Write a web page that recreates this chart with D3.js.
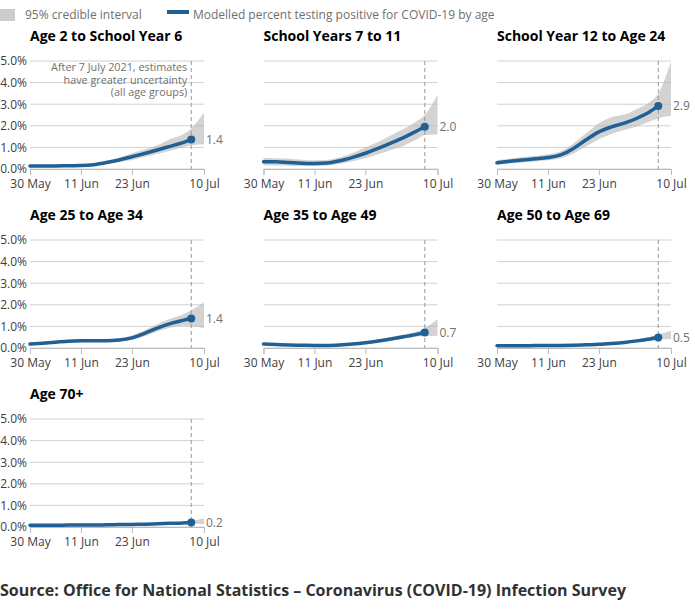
<!DOCTYPE html>
<html>
<head>
<meta charset="utf-8">
<script src="https://cdn.jsdelivr.net/npm/d3@7"></script>
<style>
  body { margin: 0; background: #fff; }
  svg { font-family: "Open Sans", sans-serif; display: block; }
</style>
</head>
<body>
<div id="chart"></div>
<script>
// panel titles, in reading order
let groups = [
  "Age 2 to School Year 6",
  "School Years 7 to 11",
  "School Year 12 to Age 24",
  "Age 25 to Age 34",
  "Age 35 to Age 49",
  "Age 50 to Age 69",
  "Age 70+"
];

// sample dates (last one only for the interval)
let dates = [
  "2021-05-30", "2021-06-02", "2021-06-05", "2021-06-08", "2021-06-11",
  "2021-06-14", "2021-06-17", "2021-06-20", "2021-06-23", "2021-06-26",
  "2021-06-29", "2021-07-02", "2021-07-05", "2021-07-07", "2021-07-10"
];

// modelled percent testing positive
let modelled = [
  [0.14, 0.14, 0.14, 0.15, 0.16, 0.20, 0.30, 0.42, 0.57, 0.72, 0.88, 1.05, 1.22, 1.37, null],
  [0.34, 0.33, 0.30, 0.27, 0.26, 0.28, 0.38, 0.54, 0.73, 0.95, 1.20, 1.45, 1.75, 1.96, null],
  [0.29, 0.36, 0.42, 0.47, 0.53, 0.65, 0.95, 1.35, 1.72, 1.95, 2.12, 2.35, 2.65, 2.92, null],
  [0.18, 0.22, 0.27, 0.31, 0.33, 0.34, 0.34, 0.37, 0.47, 0.68, 0.92, 1.13, 1.28, 1.37, null],
  [0.18, 0.16, 0.14, 0.13, 0.12, 0.12, 0.14, 0.18, 0.24, 0.32, 0.42, 0.52, 0.63, 0.72, null],
  [0.10, 0.10, 0.10, 0.11, 0.11, 0.12, 0.13, 0.15, 0.17, 0.21, 0.26, 0.33, 0.42, 0.49, null],
  [0.08, 0.08, 0.08, 0.09, 0.09, 0.09, 0.10, 0.11, 0.12, 0.13, 0.15, 0.17, 0.19, 0.21, null]
];

// 95% credible interval, lower bound
let lower = [
  [0.10, 0.10, 0.11, 0.12, 0.13, 0.16, 0.23, 0.33, 0.42, 0.56, 0.70, 0.85, 1.00, 1.10, 1.15],
  [0.17, 0.16, 0.15, 0.14, 0.14, 0.16, 0.24, 0.36, 0.50, 0.68, 0.88, 1.08, 1.35, 1.57, 1.60],
  [0.18, 0.25, 0.30, 0.35, 0.40, 0.50, 0.72, 1.05, 1.38, 1.62, 1.80, 1.98, 2.20, 2.35, 2.45],
  [0.13, 0.17, 0.21, 0.25, 0.27, 0.28, 0.28, 0.30, 0.37, 0.54, 0.76, 0.94, 1.03, 1.02, 0.92],
  [0.14, 0.12, 0.11, 0.10, 0.09, 0.09, 0.11, 0.14, 0.19, 0.26, 0.34, 0.43, 0.52, 0.55, 0.57],
  [0.08, 0.08, 0.08, 0.09, 0.09, 0.10, 0.11, 0.12, 0.14, 0.17, 0.21, 0.27, 0.34, 0.39, 0.42],
  [0.06, 0.06, 0.06, 0.07, 0.07, 0.07, 0.08, 0.09, 0.10, 0.11, 0.12, 0.14, 0.15, 0.16, 0.13]
];

// 95% credible interval, upper bound
let upper = [
  [0.19, 0.19, 0.18, 0.19, 0.20, 0.25, 0.38, 0.52, 0.73, 0.90, 1.10, 1.38, 1.60, 1.88, 2.60],
  [0.52, 0.50, 0.47, 0.43, 0.40, 0.42, 0.54, 0.74, 0.99, 1.25, 1.55, 1.85, 2.20, 2.50, 3.45],
  [0.42, 0.48, 0.55, 0.60, 0.68, 0.82, 1.18, 1.65, 2.12, 2.40, 2.52, 2.78, 3.10, 3.50, 4.98],
  [0.24, 0.28, 0.33, 0.37, 0.39, 0.40, 0.41, 0.45, 0.58, 0.82, 1.10, 1.35, 1.55, 1.75, 2.12],
  [0.22, 0.20, 0.18, 0.16, 0.15, 0.15, 0.17, 0.22, 0.29, 0.38, 0.50, 0.62, 0.76, 0.92, 1.34],
  [0.12, 0.12, 0.12, 0.13, 0.13, 0.14, 0.15, 0.18, 0.20, 0.25, 0.31, 0.40, 0.51, 0.62, 0.80],
  [0.10, 0.10, 0.10, 0.11, 0.11, 0.11, 0.12, 0.13, 0.14, 0.16, 0.18, 0.21, 0.24, 0.28, 0.40]
];

let x_ticks = ["2021-05-30", "2021-06-11", "2021-06-23", "2021-07-10"];
let y_ticks = [0, 1, 2, 3, 4, 5];
let cutoff_date = "2021-07-07";
let note_lines = [
  "After 7 July 2021, estimates",
  "have greater uncertainty",
  "(all age groups)"
];

let parse = d3.timeParse("%Y-%m-%d");

let width = 695;
let height = 612;
let panel_w = 174;
let panel_h = 108;
let col_x = [30, 263.5, 497];
let row_y = [61, 240, 419];

let blue = "#206095";
let text_grey = "#414042";
let soft_grey = "#707071";

let svg = d3.select("#chart")
  .append("svg")
    .attr("width", width)
    .attr("height", height);

let x = d3.scaleTime()
  .domain([parse("2021-05-30"), parse("2021-07-10")])
  .range([0, panel_w]);

let y = d3.scaleLinear()
  .domain([0, 5])
  .range([panel_h, 0]);

let band = d3.area()
  .x(function(d) { return x(d.date); })
  .y0(function(d) { return y(d.lo); })
  .y1(function(d) { return y(d.hi); })
  .curve(d3.curveMonotoneX);

let line = d3.line()
  .defined(function(d) { return d.mid != null; })
  .x(function(d) { return x(d.date); })
  .y(function(d) { return y(d.mid); })
  .curve(d3.curveMonotoneX);

let x_axis = d3.axisBottom(x)
  .tickValues(x_ticks.map(parse))
  .tickFormat(d3.timeFormat("%-d %b"))
  .tickSize(6)
  .tickPadding(4);

let y_axis = d3.axisLeft(y)
  .tickValues(y_ticks)
  .tickFormat(function(d) { return d3.format(".1f")(d) + "%"; })
  .tickSize(0)
  .tickPadding(3);

// legend
let legend = svg.append("g").attr("transform", "translate(0,0)");
legend.append("rect")
  .attr("x", 0).attr("y", 9).attr("width", 15).attr("height", 12)
  .attr("fill", "#cccccc");
legend.append("text")
  .attr("x", 25).attr("y", 18.5)
  .attr("font-size", 12).attr("fill", soft_grey)
  .text("95% credible interval");
legend.append("line")
  .attr("x1", 167).attr("x2", 189).attr("y1", 12).attr("y2", 12)
  .attr("stroke", blue).attr("stroke-width", 4);
legend.append("text")
  .attr("x", 193).attr("y", 18.5)
  .attr("font-size", 12).attr("fill", soft_grey)
  .text("Modelled percent testing positive for COVID-19 by age");

groups.forEach(function(name, i) {
  let col = i % 3;
  let row = Math.floor(i / 3);
  let g = svg.append("g")
    .attr("transform", "translate(" + col_x[col] + "," + row_y[row] + ")");

  let rows = dates.map(function(d, j) {
    return { date: parse(d), mid: modelled[i][j], lo: lower[i][j], hi: upper[i][j] };
  });

  g.append("text")
    .attr("x", 0).attr("y", -20)
    .attr("font-size", 14).attr("font-weight", "bold").attr("fill", "#000")
    .text(name);

  // gridlines
  g.selectAll(".grid")
    .data(y_ticks)
    .enter().append("line")
      .attr("x1", 0).attr("x2", panel_w)
      .attr("y1", function(d) { return y(d); })
      .attr("y2", function(d) { return y(d); })
      .attr("stroke", "#d0d0d0").attr("stroke-width", 1);

  if (col == 0) {
    let ya = g.append("g").call(y_axis);
    ya.select(".domain").remove();
    ya.selectAll("text").attr("font-size", 12).attr("fill", text_grey)
      .attr("font-family", "Open Sans");
  }

  let xa = g.append("g")
    .attr("transform", "translate(0," + panel_h + ")")
    .call(x_axis);
  xa.select(".domain").attr("stroke", "#bbbbbb");
  xa.selectAll(".tick line").attr("stroke", "#bbbbbb");
  xa.selectAll("text").attr("font-size", 12).attr("fill", text_grey)
    .attr("font-family", "Open Sans");

  g.append("path")
    .datum(rows)
    .attr("d", band)
    .attr("fill", "#b8b8b8").attr("fill-opacity", 0.62);

  let cx = x(parse(cutoff_date));
  g.append("line")
    .attr("x1", cx).attr("x2", cx).attr("y1", 0).attr("y2", panel_h)
    .attr("stroke", "#999999").attr("stroke-width", 1)
    .attr("stroke-dasharray", "4,3");

  g.append("path")
    .datum(rows)
    .attr("d", line)
    .attr("fill", "none")
    .attr("stroke", blue).attr("stroke-width", 3.5)
    .attr("stroke-linecap", "round");

  let last = rows.filter(function(d) { return d.mid != null; }).pop();
  g.append("circle")
    .attr("cx", x(last.date)).attr("cy", y(last.mid)).attr("r", 4)
    .attr("fill", blue);

  g.append("text")
    .attr("x", panel_w + 2).attr("y", y(last.mid))
    .attr("dy", "0.35em")
    .attr("font-size", 12).attr("fill", soft_grey)
    .text(d3.format(".1f")(last.mid));

  if (i == 0) {
    g.selectAll(".note")
      .data(note_lines)
      .enter().append("text")
        .attr("x", cx - 4)
        .attr("y", function(d, k) { return 10 + k * 12.5; })
        .attr("text-anchor", "end")
        .attr("font-size", 10.8).attr("fill", soft_grey)
        .text(function(d) { return d; });
  }
});

svg.append("text")
  .attr("x", 0).attr("y", 596)
  .attr("font-size", 16).attr("font-weight", "bold").attr("fill", "#323132")
  .attr("textLength", 626).attr("lengthAdjust", "spacingAndGlyphs")
  .text("Source: Office for National Statistics \u2013 Coronavirus (COVID-19) Infection Survey");
</script>
</body>
</html>
